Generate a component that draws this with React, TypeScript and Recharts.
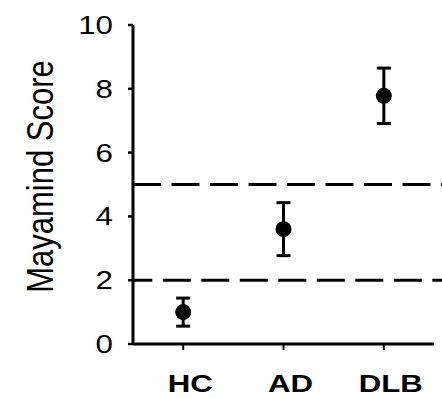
import React from 'react';
import {
    ComposedChart,
    Line,
    XAxis,
    YAxis,
    ErrorBar,
    ReferenceLine,
} from 'recharts';

// groups and their mean score +/- error
const groups = ['HC', 'AD', 'DLB'];
const meanScores = [1.0, 3.6, 7.78];
const scoreErrors = [0.44, 0.83, 0.87];

// dashed cut-off lines
const cutoffs = [2, 5];
const yTicks = [0, 2, 4, 6, 8, 10];

const data = groups.map((g, i) => ({
    group: g,
    score: meanScores[i],
    err: scoreErrors[i],
}));

const FONT = '"Liberation Sans", Arial, Helvetica, sans-serif';

// the original picture is a bit wider than tall, so text gets stretched in x
const YTick = ({ x, y, payload }: any) => (
    <text
        transform={`translate(${x},${y}) scale(1.25,1)`}
        textAnchor="end"
        dy="0.36em"
        fill="#000"
        fontSize={25}
        fontFamily={FONT}
    >
        {payload.value}
    </text>
);

const XTick = ({ x, y, payload }: any) => (
    <text
        transform={`translate(${x + 7},${y + 40}) scale(1.3,1)`}
        textAnchor="middle"
        fill="#000"
        fontSize={24}
        fontWeight="bold"
        fontFamily={FONT}
    >
        {payload.value}
    </text>
);

const YLabel = ({ viewBox }: any) => {
    const cy = viewBox.y + viewBox.height / 2 - 8;
    return (
        <text
            transform={`translate(${viewBox.x + 53},${cy}) scale(1.22,1) rotate(-90)`}
            textAnchor="middle"
            fill="#000"
            fontSize={31}
            fontFamily={FONT}
        >
            Mayamind Score
        </text>
    );
};

// dashed line runs a little past the end of the x axis
const DashedCutoff = (props: any) => {
    const { x1, y1, x2, y2, offset } = props;
    return (
        <line
            x1={x1}
            y1={y1}
            x2={x2 + 8}
            y2={y2}
            stroke="#000"
            strokeWidth={3}
            strokeDasharray="28 10.5"
            strokeDashoffset={offset}
        />
    );
};

const dashOffsets = [8.7, 0];

export default function App() {
    return (
        <div style={{ position: 'absolute', left: 0, top: 0, background: '#fff' }}>
            <ComposedChart
                width={442}
                height={398}
                data={data}
                margin={{ top: 25, right: 8, bottom: 0, left: 0 }}
            >
                <XAxis
                    dataKey="group"
                    scale="band"
                    interval={0}
                    height={54}
                    tickSize={6}
                    tickMargin={2}
                    axisLine={{ stroke: '#000', strokeWidth: 3 }}
                    tickLine={{ stroke: '#000', strokeWidth: 2 }}
                    tick={<XTick />}
                />
                <YAxis
                    type="number"
                    domain={[0, 10]}
                    ticks={yTicks}
                    interval={0}
                    width={133}
                    tickSize={5}
                    tickMargin={15}
                    axisLine={{ stroke: '#000', strokeWidth: 3 }}
                    tickLine={{ stroke: '#000', strokeWidth: 2.5 }}
                    tick={<YTick />}
                    label={<YLabel />}
                />
                {cutoffs.map((c, i) => (
                    <ReferenceLine
                        key={c}
                        y={c}
                        ifOverflow="visible"
                        shape={(p: any) => <DashedCutoff {...p} offset={dashOffsets[i]} />}
                    />
                ))}
                <Line
                    dataKey="score"
                    stroke="none"
                    isAnimationActive={false}
                    activeDot={false}
                    dot={{ r: 8, fill: '#000', stroke: '#000', strokeWidth: 0 }}
                >
                    <ErrorBar
                        dataKey="err"
                        direction="y"
                        width={7}
                        stroke="#000"
                        strokeWidth={3}
                        isAnimationActive={false}
                    />
                </Line>
            </ComposedChart>
        </div>
    );
}
